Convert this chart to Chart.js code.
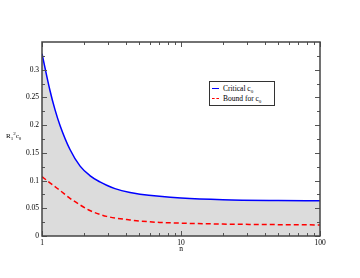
<!DOCTYPE html>
<html>
<head>
<meta charset="utf-8">
<script src="https://cdn.jsdelivr.net/npm/chart.js@4/dist/chart.umd.min.js"></script>
<style>
  html, body { margin: 0; padding: 0; background: #fff; }
  .wrap { position: relative; width: 360px; height: 278px; font-family: "Liberation Serif", serif; color: #000; }
  canvas { position: absolute; left: 0; top: 0; }
  .ytitle { position: absolute; left: 6px; top: 132px; font-size: 7px; line-height: 8px; white-space: nowrap; }
  .ytitle sub, .legend sub { font-size: 5px; vertical-align: -2px; line-height: 0; }
  .ytitle sup { font-size: 5px; vertical-align: 3px; line-height: 0; }
  .legend { position: absolute; left: 209px; top: 81px; width: 64px; height: 23px; border: 1px solid #333; background: #fff; font-size: 7.5px; }
  .legend .row { position: absolute; left: 0; height: 9px; line-height: 9px; white-space: nowrap; }
  .legend .sample { position: absolute; left: 2px; top: 4px; width: 7px; height: 0; }
  .legend .label { position: absolute; left: 13px; top: 0; }
</style>
</head>
<body>
<div class="wrap">
  <canvas id="chart" width="360" height="278"></canvas>
  <div class="ytitle">R<sub>1</sub><sup>2</sup>c<sub>0</sub></div>
  <div class="legend">
    <div class="row" style="top:2px"><div class="sample" style="border-top:1.5px solid #0000ff"></div><span class="label">Critical c<sub>0</sub></span></div>
    <div class="row" style="top:12px"><div class="sample" style="border-top:1.5px dashed #ff0000"></div><span class="label">Bound for c<sub>0</sub></span></div>
  </div>
</div>
<script>
// values
const nValues = [1, 1.14, 1.24, 1.35, 1.59, 1.88, 2.21, 2.61, 2.92, 3.35, 4.3, 5.07, 7, 10, 20, 50, 100];
const criticalC0 = [0.329, 0.263, 0.228, 0.199, 0.156, 0.126, 0.109, 0.0975, 0.0915, 0.0855, 0.0785, 0.0755, 0.0715, 0.0685, 0.0655, 0.064, 0.0635];
const boundC0 = [0.107, 0.096, 0.089, 0.082, 0.068, 0.056, 0.046, 0.039, 0.0354, 0.0325, 0.029, 0.027, 0.0245, 0.0232, 0.0215, 0.0205, 0.020];

const xTickLabels = [1, 10, 100];
const yTickLabels = [0, 0.05, 0.1, 0.15, 0.2, 0.25, 0.3];

const toPoints = (ys) => nValues.map((n, i) => ({ x: n, y: ys[i] }));

// log minor ticks 2..9, 20..90
const xMinor = [];
for (let d = 1; d < 100; d *= 10) {
  for (let k = 2; k <= 9; k++) xMinor.push(k * d);
}
const yMinor = [];
for (let v = 0.025; v < 0.35; v += 0.05) yMinor.push(v);

// frame with inward ticks on all four sides, like the original plot
const frameTicks = {
  id: "frameTicks",
  afterDatasetsDraw(chart) {
    const { ctx, chartArea: a } = chart;
    const xs = chart.scales.x;
    const ys = chart.scales.y;
    ctx.save();
    ctx.strokeStyle = "#555";
    ctx.lineWidth = 1;
    ctx.beginPath();
    const xTick = (v, len) => {
      const px = Math.round(xs.getPixelForValue(v)) + 0.5;
      ctx.moveTo(px, a.bottom); ctx.lineTo(px, a.bottom - len);
      ctx.moveTo(px, a.top); ctx.lineTo(px, a.top + len);
    };
    const yTick = (v, len) => {
      const py = Math.round(ys.getPixelForValue(v)) + 0.5;
      ctx.moveTo(a.left, py); ctx.lineTo(a.left + len, py);
      ctx.moveTo(a.right, py); ctx.lineTo(a.right - len, py);
    };
    xTickLabels.forEach((v) => xTick(v, 5));
    xMinor.forEach((v) => xTick(v, 3));
    yTickLabels.forEach((v) => yTick(v, 5));
    yMinor.forEach((v) => yTick(v, 3));
    ctx.stroke();
    ctx.lineWidth = 1.5;
    ctx.strokeStyle = "#444";
    ctx.strokeRect(a.left, a.top, a.right - a.left, a.bottom - a.top);
    ctx.restore();
  },
};

const tickFont = { family: "Liberation Serif", size: 7.5 };

new Chart(document.getElementById("chart"), {
  type: "line",
  data: {
    datasets: [
      {
        label: "Critical c0",
        data: toPoints(criticalC0),
        borderColor: "#0000ff",
        borderWidth: 1.5,
        backgroundColor: "#dcdcdc",
        fill: "origin",
        pointRadius: 0,
        cubicInterpolationMode: "monotone",
      },
      {
        label: "Bound for c0",
        data: toPoints(boundC0),
        borderColor: "#ff0000",
        borderWidth: 1.5,
        borderDash: [5, 3],
        fill: false,
        pointRadius: 0,
        cubicInterpolationMode: "monotone",
      },
    ],
  },
  options: {
    responsive: false,
    animation: false,
    layout: { padding: { top: 42, right: 40, left: 0, bottom: 0 } },
    plugins: {
      legend: { display: false },
      tooltip: { enabled: false },
      filler: { drawTime: "beforeDatasetsDraw" },
    },
    scales: {
      x: {
        type: "logarithmic",
        min: 1,
        max: 100,
        grid: { display: false, drawTicks: false },
        border: { display: false },
        afterBuildTicks: (scale) => {
          scale.ticks = xTickLabels.map((v) => ({ value: v }));
        },
        afterFit: (scale) => { scale.height = 42; },
        ticks: {
          font: tickFont,
          color: "#000",
          padding: 3,
          maxRotation: 0,
          autoSkip: false,
          callback: (v) => String(v),
        },
        title: {
          display: true,
          text: "n",
          font: tickFont,
          color: "#000",
          padding: { top: 0, bottom: 24 },
        },
      },
      y: {
        min: 0,
        max: 0.35,
        grid: { display: false, drawTicks: false },
        border: { display: false },
        afterBuildTicks: (scale) => {
          scale.ticks = yTickLabels.map((v) => ({ value: v }));
        },
        afterFit: (scale) => { scale.width = 42; },
        ticks: {
          font: tickFont,
          color: "#000",
          padding: 3,
          callback: (v) => String(v),
        },
      },
    },
  },
  plugins: [frameTicks],
});
</script>
</body>
</html>
